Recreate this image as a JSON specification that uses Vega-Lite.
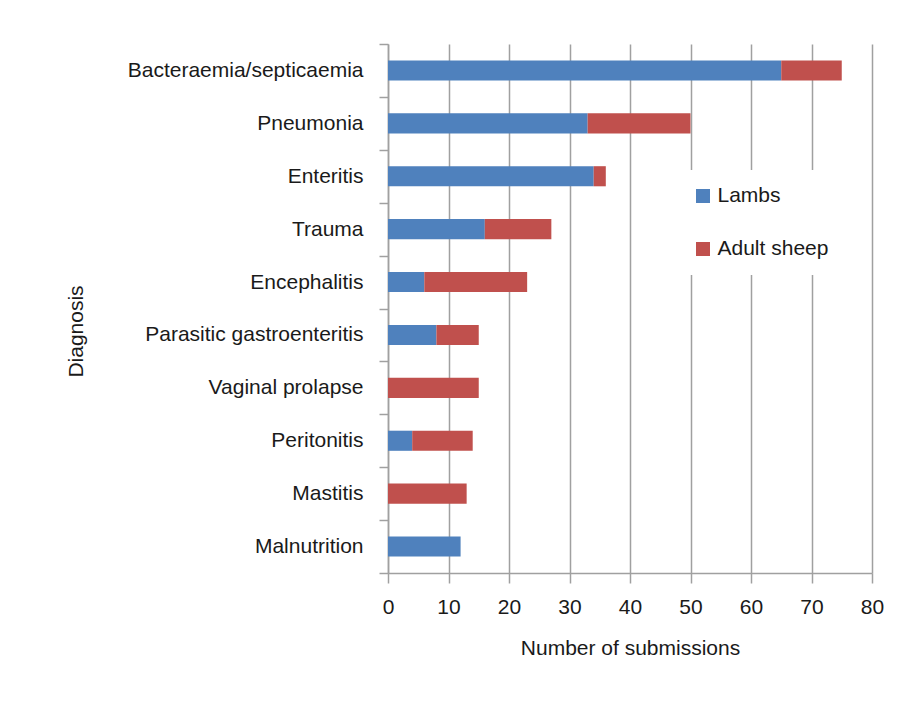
{
  "$schema": "https://vega.github.io/schema/vega-lite/v6.json",
  "autosize": {"type": "none"},
  "width": 484,
  "height": 529,
  "padding": {"left": 388, "top": 44, "right": 34, "bottom": 138},
  "background": "white",
  "config": {
    "font": "Liberation Sans",
    "view": {"stroke": null},
    "axis": {
      "labelFont": "Liberation Sans",
      "titleFont": "Liberation Sans",
      "labelFontSize": 21,
      "titleFontSize": 21,
      "labelColor": "#1a1a1a",
      "titleColor": "#1a1a1a",
      "titleFontWeight": "normal",
      "labelLimit": 0,
      "domainColor": "#a0a0a0",
      "domainWidth": 1.5,
      "tickColor": "#a0a0a0",
      "tickWidth": 1.5
    }
  },
  "data": {
    "values": [
      {"diagnosis": "Bacteraemia/septicaemia", "group": "Lambs", "order": 1, "count": 65},
      {"diagnosis": "Bacteraemia/septicaemia", "group": "Adult sheep", "order": 2, "count": 10},
      {"diagnosis": "Pneumonia", "group": "Lambs", "order": 1, "count": 33},
      {"diagnosis": "Pneumonia", "group": "Adult sheep", "order": 2, "count": 17},
      {"diagnosis": "Enteritis", "group": "Lambs", "order": 1, "count": 34},
      {"diagnosis": "Enteritis", "group": "Adult sheep", "order": 2, "count": 2},
      {"diagnosis": "Trauma", "group": "Lambs", "order": 1, "count": 16},
      {"diagnosis": "Trauma", "group": "Adult sheep", "order": 2, "count": 11},
      {"diagnosis": "Encephalitis", "group": "Lambs", "order": 1, "count": 6},
      {"diagnosis": "Encephalitis", "group": "Adult sheep", "order": 2, "count": 17},
      {"diagnosis": "Parasitic gastroenteritis", "group": "Lambs", "order": 1, "count": 8},
      {"diagnosis": "Parasitic gastroenteritis", "group": "Adult sheep", "order": 2, "count": 7},
      {"diagnosis": "Vaginal prolapse", "group": "Lambs", "order": 1, "count": 0},
      {"diagnosis": "Vaginal prolapse", "group": "Adult sheep", "order": 2, "count": 15},
      {"diagnosis": "Peritonitis", "group": "Lambs", "order": 1, "count": 4},
      {"diagnosis": "Peritonitis", "group": "Adult sheep", "order": 2, "count": 10},
      {"diagnosis": "Mastitis", "group": "Lambs", "order": 1, "count": 0},
      {"diagnosis": "Mastitis", "group": "Adult sheep", "order": 2, "count": 13},
      {"diagnosis": "Malnutrition", "group": "Lambs", "order": 1, "count": 12},
      {"diagnosis": "Malnutrition", "group": "Adult sheep", "order": 2, "count": 0}
    ]
  },
  "mark": {"type": "bar", "height": {"band": 0.38}},
  "encoding": {
    "y": {
      "field": "diagnosis",
      "type": "nominal",
      "sort": null,
      "scale": {"paddingInner": 0, "paddingOuter": 0},
      "axis": {
        "title": "Diagnosis",
        "tickBand": "extent",
        "tickSize": 9,
        "labelPadding": 16,
        "grid": false,
        "titleX": -306,
        "titleY": 287,
        "titleAngle": -90,
        "titleAlign": "center",
        "titleBaseline": "alphabetic"
      }
    },
    "x": {
      "field": "count",
      "type": "quantitative",
      "stack": "zero",
      "scale": {"domain": [0, 80], "nice": false},
      "axis": {
        "title": "Number of submissions",
        "values": [0, 10, 20, 30, 40, 50, 60, 70, 80],
        "grid": true,
        "gridColor": "#a0a0a0",
        "gridWidth": 1.5,
        "tickSize": 10,
        "labelPadding": 30,
        "labelBaseline": "alphabetic",
        "labelFlush": false,
        "titleBaseline": "alphabetic",
        "titleY": 81
      }
    },
    "color": {
      "field": "group",
      "type": "nominal",
      "scale": {"domain": ["Lambs", "Adult sheep"], "range": ["#4F81BD", "#C0504D"]},
      "legend": {
        "title": null,
        "orient": "none",
        "direction": "vertical",
        "legendX": 289,
        "legendY": 126,
        "padding": 15.5,
        "fillColor": "white",
        "symbolType": "square",
        "symbolSize": 196,
        "symbolStrokeWidth": 0,
        "labelFont": "Liberation Sans",
        "labelFontSize": 21,
        "labelColor": "#1a1a1a",
        "labelOffset": 4,
        "rowPadding": 31
      }
    },
    "order": {"field": "order", "type": "quantitative"}
  }
}
